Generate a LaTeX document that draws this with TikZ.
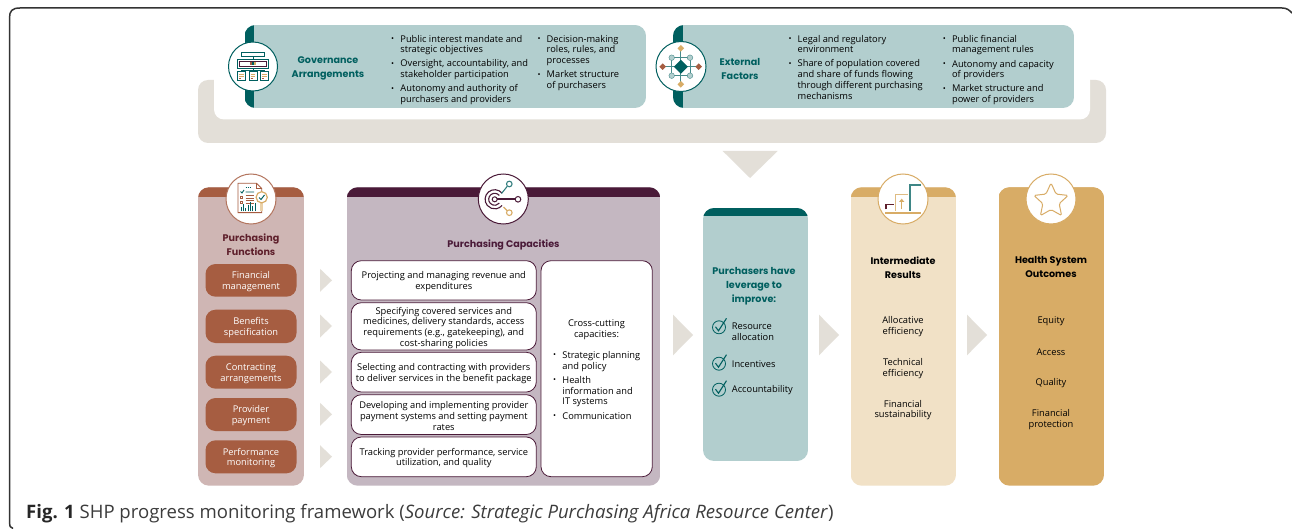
\documentclass[tikz,border=0pt]{standalone}
\usepackage{fontspec}
\setmainfont{Open Sans}
\newfontfamily\headf{Poppins}
\usetikzlibrary{shapes.geometric,calc}
\definecolor{teal}{HTML}{005F5F}
\definecolor{tealL}{HTML}{B2CECE}
\definecolor{beigeG}{HTML}{E3DFD8}
\definecolor{brownD}{HTML}{A65D41}
\definecolor{brownL}{HTML}{CFB6B4}
\definecolor{plumD}{HTML}{4A1A38}
\definecolor{plumL}{HTML}{C4B7C1}
\definecolor{goldD}{HTML}{D8AC66}
\definecolor{goldL}{HTML}{F1E1C6}
\definecolor{maroon}{HTML}{5E1F2B}
\definecolor{capt}{HTML}{3C3C3C}
\newcommand\bodyf{\fontsize{9.3}{10.7}\selectfont}
\newcommand\hdf{\headf\bfseries\fontsize{9.6}{13.9}\selectfont}
\newcommand\blt{\makebox[9.2pt][l]{\raisebox{.6pt}{\fontsize{8}{8}\selectfont•}}}
\newcommand\ind{\hspace*{9.2pt}}
\newcommand\gp{\\[3.5pt]}
\tikzset{
 body/.style={font=\bodyf,inner sep=0pt,align=center,text=black,yshift=-1.3pt},
 list/.style={font=\bodyf,inner sep=0pt,align=left,anchor=north west,text=black,yshift=-1.8pt},
 head/.style={font=\hdf,inner sep=0pt,align=center,yshift=-.6pt},
 btn/.style={fill=brownD,rounded corners=10pt},
 wbox/.style={draw=plumD,fill=white,line width=.8pt,rounded corners=10pt},
 chev/.style={fill=beigeG},
 disc/.style={fill=white,line width=1pt},
}
\newcommand\panel[7]{%
 \begin{scope}
 \clip[rounded corners=11pt] (#1,#2) rectangle (#3,#4);
 \fill[#5] (#1,#2) rectangle (#3,#4);
 \fill[#6] (#1,#2) rectangle (#3,#7);
 \end{scope}}
\newcommand\hpanel[2]{%
 \begin{scope}
 \clip[rounded corners=11pt] (#1,25) rectangle (#2,108);
 \fill[tealL] (#1,25) rectangle (#2,108);
 \fill[teal] (#1,25) rectangle (#1+9.5,108);
 \end{scope}}
\newcommand\chevA[2]{\fill[chev] (#1,#2-11.5) -- (#1+12,#2) -- (#1,#2+11.5) -- cycle;}
\newcommand\chevB[1]{\fill[chev] (#1,314.7) -- (#1+20,335) -- (#1,355.3) -- cycle;}
\newcommand\tick[2]{%
 \draw[teal,line width=.8pt] (#1,#2) circle (6.5);
 \draw[teal,line width=1.1pt] (#1-3.5,#2-.5) -- (#1-.5,#2+3.5) -- (#1+7.5,#2-9);}
\newcommand\btnbox[5]{% name y1 y2 line1 line2
 \fill[btn] (205.5,#2) rectangle (296.5,#3);
 \node[body,text=white] (#1) at (251,{(#2+#3)/2}) {#4\\#5};}
\newcommand\capbox[4]{% name y1 y2 text
 \draw[wbox] (351.3,#2) rectangle (536.3,#3);
 \node[body] (#1) at (443.8,{(#2+#3)/2}) {#4};}
\begin{document}
\begin{tikzpicture}[x=1pt,y=-1pt]
\useasboundingbox (0,0) rectangle (1292,529);
\fill[white] (0,0) rectangle (1292,529);
% frame
\draw[black!80,line width=1.5pt] (13,528.5) .. controls (10,527.5) and (9.5,526) .. (9.5,523) -- (9.5,18) .. controls (9.5,11) and (12,8) .. (20,8) -- (1282,8) .. controls (1287,8) and (1289,10) .. (1292,13);
% bracket
\fill[beigeG,rounded corners=10pt] (198,80) rectangle (1106,143);
\fill[white,rounded corners=10pt] (214,70) rectangle (1090,119.5);
\fill[beigeG] (722.7,151) -- (777.7,151) -- (750,178) -- cycle;
% top boxes
\hpanel{244.5}{646}
\hpanel{673}{1074}
% governance
\draw[teal,disc] (253,66.5) circle (24.5);
\draw[teal,fill=white,line width=.9pt] (241.3,52.3) rectangle (264.7,56.3);
\draw[teal,line width=.8pt] (253,56.3) -- (253,59);
\draw[teal,fill=white,line width=.9pt] (237.3,59) rectangle (268.3,68.3);
\draw[plumD,fill=white,line width=.8pt] (239.3,61) rectangle (266.3,66.3);
\fill[brownD] (250,62.2) rectangle (252,64.6);\fill[teal] (252,62.2) rectangle (254,64.6);\fill[goldD] (254,62.2) rectangle (256,64.6);
\draw[teal,line width=.8pt] (241.3,71.7) -- (241.3,70) -- (264.3,70) -- (264.3,71.7) (253,68.3) -- (253,71.7);
\foreach \xx in {237.3,249,260.3}{
 \draw[teal,fill=white,line width=.9pt] (\xx,71.7) rectangle (\xx+8,80.3);
 \draw[goldD,line width=.8pt] (\xx+1.6,74.3) -- (\xx+6.4,74.3) (\xx+1.6,76.3) -- (\xx+6.4,76.3);
 \draw[brownD,line width=.8pt] (\xx+1.6,78.2) -- (\xx+4,78.2);}
\node[head,text=teal] (govh) at (328,68) {Governance\\Arrangements};
\node[list] (gov1) at (391,33) {\blt Public interest mandate and\\\ind strategic objectives\gp\blt Oversight, accountability, and\\\ind stakeholder participation\gp\blt Autonomy and authority of\\\ind purchasers and providers};
\node[list] (gov2) at (537.3,33) {\blt Decision-making\\\ind roles, rules, and\\\ind processes\gp\blt Market structure\\\ind of purchasers};
% external
\draw[teal,disc] (681,66.5) circle (25);
\draw[teal!60!tealL,line width=.9pt] (671.7,57.7) rectangle (690,75.7) (680.8,48.3) -- (680.8,84.3) (662.7,66.7) -- (698.7,66.7);
\foreach \xx/\yy in {671.7/57.7,690/57.7,671.7/75.7,690/75.7}{\fill[tealL] (\xx,\yy) circle (2.8);\draw[teal!60!tealL,line width=.4pt] (\xx,\yy) circle (2.8);}
\fill[teal] (680.8,59.7) -- (687.8,66.7) -- (680.8,73.7) -- (673.8,66.7) -- cycle;
\foreach \xx/\yy/\cc in {680.8/48.3/goldD,680.8/84.3/goldD,662.7/66.7/brownD,698.7/66.7/brownD}{\fill[\cc] (\xx,\yy-3.3) -- (\xx+3.3,\yy) -- (\xx,\yy+3.3) -- (\xx-3.3,\yy) -- cycle;}
\node[head,text=teal] (exth) at (740,68) {External\\Factors};
\node[list] (ext1) at (788.3,33) {\blt Legal and regulatory\\\ind environment\gp\blt Share of population covered\\\ind and share of funds flowing\\\ind through different purchasing\\\ind mechanisms};
\node[list] (ext2) at (942.7,33) {\blt Public financial\\\ind management rules\gp\blt Autonomy and capacity\\\ind of providers\gp\blt Market structure and\\\ind power of providers};
% columns
\panel{198}{187.3}{304}{485.7}{brownL}{brownD}{197}
\panel{346.7}{187.3}{660.3}{485.7}{plumL}{plumD}{197}
\panel{703}{208}{808}{461}{tealL}{teal}{216.3}
\panel{850.7}{187.3}{956}{485.7}{goldL}{goldD}{197}
\panel{998.5}{187.3}{1104}{485.7}{goldD}{goldD}{197}
% functions icon
\draw[brownD!85!white,disc] (251,199) circle (25);
\draw[brownD,fill=white,line width=.9pt] (238,183.3) -- (256.5,183.3) -- (261.7,188.5) -- (261.7,212.7) -- (238,212.7) -- cycle;
\draw[brownD,line width=.7pt] (256.5,183.3) -- (256.5,188.5) -- (261.7,188.5);
\draw[teal,line width=.9pt] (240.5,191.5) -- (242,193) -- (244,190) (245.5,192) -- (254,192);
\draw[teal,line width=.9pt,dash pattern=on 1pt off 1pt] (245.5,187.5) -- (251,187.5);
\draw[brownD,line width=.8pt] (240.5,196) rectangle (242.5,198) (245.5,195.5) -- (254,195.5) (245.5,198) -- (254,198) (240.5,201) rectangle (242.5,203) (245.5,200.5) -- (254,200.5) (245.5,203) -- (254,203);
\foreach \xx/\hh in {241/4,243.3/7,245.6/3.5,248/6,250.3/9,252.6/5,255/8}{\draw[teal,line width=.9pt] (\xx,211.3) -- (\xx,211.3-\hh);}
\draw[goldL!70!goldD,line width=2.6pt] (261.7,203) -- (261.7,211.5);
\draw[goldD,fill=white,line width=1.2pt] (261.7,197.3) circle (5.6);
\draw[teal,line width=1pt] (259,197.5) -- (261,199.5) -- (264.5,195);
\node[head,text=maroon] (funh) at (251,244.2) {Purchasing\\Functions};
\btnbox{fin}{264}{296.7}{Financial}{management}
\btnbox{ben}{309.7}{343}{Benefits}{specification}
\btnbox{con}{355.7}{388.7}{Contracting}{arrangements}
\btnbox{pro}{398}{431}{Provider}{payment}
\btnbox{per}{440.3}{473.3}{Performance}{monitoring}
\chevA{320}{280.3}\chevA{320}{326}\chevA{320}{372}\chevA{320}{414.3}\chevA{320}{456.7}
% capacities icon
\draw[plumD,disc] (503.3,199) circle (25);
\draw[plumD,line width=1pt] (494.7,199.3) circle (2.5);
\draw[plumD,line width=1.1pt] ($(494.7,199.3)+(-40:6)$) arc (-40:-320:6);
\draw[plumD,line width=1.1pt] ($(494.7,199.3)+(-40:9.6)$) arc (-40:-320:9.6);
\draw[plumD,line width=2pt] (497,199.3) -- (515,199.3);
\draw[plumD,fill=white,line width=1pt] (518,199.3) circle (2.8);
\draw[teal!70!tealL,line width=1.1pt] (501.5,193.5) -- (507.3,186.3);
\draw[teal!70!tealL,fill=white,line width=1.1pt] (509.3,184) circle (2.8);
\draw[goldD,line width=1.1pt] (503.5,207) -- (507.5,211);
\draw[goldD,fill=white,line width=1.1pt] (509.3,212.7) circle (2.8);
\node[head,text=plumD] (caph) at (503.5,244.6) {Purchasing Capacities};
\capbox{c1}{260.7}{300}{Projecting and managing revenue and\\expenditures}
\capbox{c2}{302.7}{350}{Specifying covered services and\\medicines, delivery standards, access\\requirements (e.g., gatekeeping), and\\cost-sharing policies}
\capbox{c3}{352.3}{392}{Selecting and contracting with providers\\to deliver services in the benefit package}
\capbox{c4}{394.7}{434.5}{Developing and implementing provider\\payment systems and setting payment\\rates}
\capbox{c5}{437}{476.7}{Tracking provider performance, service\\utilization, and quality}
\draw[wbox] (541,260.7) rectangle (652.3,476.7);
\node[body] (cch) at (596.5,328.5) {Cross-cutting\\capacities:};
\node[list] (ccl) at (553,349.5) {\blt Strategic planning\\\ind and policy\gp\blt Health\\\ind information and\\\ind IT systems\gp\blt Communication};
% big chevrons
\chevB{673}\chevB{819}\chevB{967}
% leverage
\node[head,text=teal] (levh) at (754,285.3) {Purchasers have\\leverage to\\improve:};
\tick{719}{327.3}\tick{719}{363.7}\tick{719}{389.7}
\node[list] (lv1) at (731.7,321) {Resource\\allocation};
\node[body,anchor=west] (lv2) at (731.7,363) {Incentives};
\node[body,anchor=west] (lv3) at (731.7,389) {Accountability};
% intermediate
\draw[goldD,disc] (903,199) circle (25);
\draw[maroon,line width=1.6pt] (886,209.5) -- (886,204.4) -- (894,204.4);
\draw[goldD!70!goldL,line width=1.6pt] (895.3,211) -- (895.3,194.5) -- (908.3,194.5);
\draw[teal!65!tealL,line width=1.8pt] (910,211) -- (910,185) -- (920.7,185);
\draw[goldD,line width=2pt] (885,212.7) -- (921,212.7);
\draw[goldD,line width=1.3pt] (901.7,209.5) -- (901.7,201);
\fill[goldD] (899,202) -- (901.7,198.7) -- (904.4,202) -- cycle;
\node[head,text=black] (inth) at (903,266.8) {Intermediate\\Results};
\node[body] (i1) at (903,325.3) {Allocative\\efficiency};
\node[body] (i2) at (903,367) {Technical\\efficiency};
\node[body] (i3) at (903,408.8) {Financial\\sustainability};
% outcomes
\draw[goldD,disc] (1051,199) circle (25);
\node[star,star points=5,star point ratio=2.1,minimum size=36pt,inner sep=0pt,draw=goldD,line width=1pt,rounded corners=1.5pt] (st) at (1051,201) {};
\node[head,text=black] (outh) at (1051,266.8) {Health System\\Outcomes};
\node[body] (o1) at (1051,320) {Equity};
\node[body] (o2) at (1051,351) {Access};
\node[body] (o3) at (1051,382) {Quality};
\node[body] (o4) at (1051,418.5) {Financial\\protection};
% caption
\node[anchor=base west,inner sep=0pt,text=capt,font=\fontsize{18.55}{20}\selectfont] (cap) at (26,518) {{\bfseries\color{black!85}Fig. 1} SHP progress monitoring framework (\textit{Source: Strategic Purchasing Africa Resource Center})};
\end{tikzpicture}
\end{document}
